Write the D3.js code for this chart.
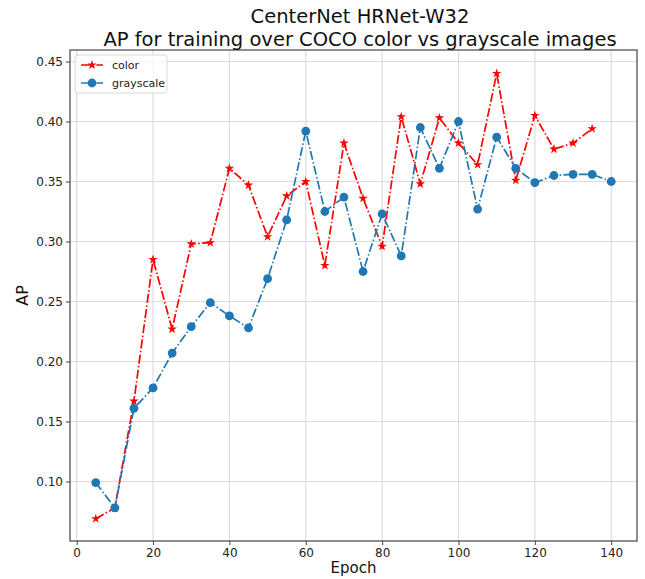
<!DOCTYPE html>
<html>
<head>
<meta charset="utf-8">
<script src="https://cdn.jsdelivr.net/npm/d3@7"></script>
<style>
  body { margin: 0; background: #fff; }
  svg { font-family: "DejaVu Sans", sans-serif; }
</style>
</head>
<body>
<svg width="645" height="579"></svg>
<script>
// Epochs and AP values
const colorEpochs = [5, 10, 15, 20, 25, 30, 35, 40, 45, 50, 55, 60, 65, 70, 75, 80, 85, 90, 95, 100, 105, 110, 115, 120, 125, 130, 135];
const colorAP = [0.069, 0.078, 0.167, 0.285, 0.227, 0.298, 0.299, 0.361, 0.347, 0.304, 0.338, 0.350, 0.280, 0.382, 0.336, 0.296, 0.404, 0.348, 0.403, 0.382, 0.364, 0.440, 0.351, 0.405, 0.377, 0.382, 0.394];
const grayEpochs = [5, 10, 15, 20, 25, 30, 35, 40, 45, 50, 55, 60, 65, 70, 75, 80, 85, 90, 95, 100, 105, 110, 115, 120, 125, 130, 135, 140];
const grayAP = [0.099, 0.078, 0.161, 0.178, 0.207, 0.229, 0.249, 0.238, 0.228, 0.269, 0.318, 0.392, 0.325, 0.337, 0.275, 0.323, 0.288, 0.395, 0.361, 0.400, 0.327, 0.387, 0.361, 0.349, 0.355, 0.356, 0.356, 0.350];
const xTicks = [0, 20, 40, 60, 80, 100, 120, 140];
const yTicks = [0.10, 0.15, 0.20, 0.25, 0.30, 0.35, 0.40, 0.45];

const svg = d3.select("svg");
const margin = { top: 50, right: 8, bottom: 38, left: 70 };
const width = +svg.attr("width");
const height = +svg.attr("height");
const innerWidth = width - margin.left - margin.right;
const innerHeight = height - margin.top - margin.bottom;

const g = svg.append("g")
	.attr("transform", `translate(${margin.left},${margin.top})`);

const x = d3.scaleLinear().domain([-1.75, 146.75]).range([0, innerWidth]);
const y = d3.scaleLinear().domain([0.0504, 0.4596]).range([innerHeight, 0]);

// grid
g.append("g").selectAll("line").data(xTicks).enter().append("line")
	.attr("x1", d => x(d)).attr("x2", d => x(d))
	.attr("y1", 0).attr("y2", innerHeight)
	.attr("stroke", "#dcdcdc").attr("stroke-width", 1.2);
g.append("g").selectAll("line").data(yTicks).enter().append("line")
	.attr("y1", d => y(d)).attr("y2", d => y(d))
	.attr("x1", 0).attr("x2", innerWidth)
	.attr("stroke", "#dcdcdc").attr("stroke-width", 1.2);

// axes
const xAxis = g.append("g")
	.attr("transform", `translate(0,${innerHeight})`)
	.call(d3.axisBottom(x).tickValues(xTicks).tickSize(4).tickPadding(3).tickFormat(d3.format("d")));
const yAxis = g.append("g")
	.call(d3.axisLeft(y).tickValues(yTicks).tickSize(4).tickPadding(3).tickFormat(d3.format(".2f")));
[xAxis, yAxis].forEach(a => {
	a.select(".domain").remove();
	a.selectAll("line").attr("stroke", "#444");
	a.selectAll("text").attr("font-size", 12).attr("fill", "#222")
		.attr("font-family", "DejaVu Sans, sans-serif");
});

// frame
g.append("rect")
	.attr("width", innerWidth).attr("height", innerHeight)
	.attr("fill", "none").attr("stroke", "#444").attr("stroke-width", 1.2);

const dash = "9,2.4,1.5,2.4";
const star = d3.symbol().type(d3.symbolStar).size(28);

const series = [
	{ name: "color", xs: colorEpochs, ys: colorAP, color: "#ff0000", marker: "star" },
	{ name: "grayscale", xs: grayEpochs, ys: grayAP, color: "#1f77b4", marker: "circle" }
];

series.forEach(s => {
	const pts = s.xs.map((e, i) => [e, s.ys[i]]);
	g.append("path")
		.datum(pts)
		.attr("fill", "none")
		.attr("stroke", s.color)
		.attr("stroke-width", 1.7)
		.attr("stroke-dasharray", dash)
		.attr("d", d3.line().x(d => x(d[0])).y(d => y(d[1])));
	if (s.marker === "star") {
		g.append("g").selectAll("path").data(pts).enter().append("path")
			.attr("d", star)
			.attr("transform", d => `translate(${x(d[0])},${y(d[1])})`)
			.attr("fill", s.color);
	} else {
		g.append("g").selectAll("circle").data(pts).enter().append("circle")
			.attr("cx", d => x(d[0])).attr("cy", d => y(d[1]))
			.attr("r", 4.4).attr("fill", s.color);
	}
});

// legend
const legend = g.append("g").attr("transform", "translate(5,5)");
legend.append("rect")
	.attr("width", 92).attr("height", 38).attr("rx", 3)
	.attr("fill", "#fff").attr("fill-opacity", 0.8)
	.attr("stroke", "#d8d8d8");
series.forEach((s, i) => {
	const ly = 10 + i * 18;
	legend.append("line")
		.attr("x1", 6).attr("x2", 28).attr("y1", ly).attr("y2", ly)
		.attr("stroke", s.color).attr("stroke-width", 1.7)
		.attr("stroke-dasharray", dash);
	if (s.marker === "star") {
		legend.append("path").attr("d", star)
			.attr("transform", `translate(17,${ly})`).attr("fill", s.color);
	} else {
		legend.append("circle").attr("cx", 17).attr("cy", ly).attr("r", 4.4).attr("fill", s.color);
	}
	legend.append("text")
		.attr("x", 37).attr("y", ly).attr("dy", "0.35em")
		.attr("font-size", 11).attr("fill", "#222")
		.text(s.name);
});

// title and axis labels
const cx = 360;
const title = svg.append("text")
	.attr("text-anchor", "middle")
	.attr("font-size", 19.5).attr("fill", "#111");
title.append("tspan").attr("x", cx).attr("y", 23).text("CenterNet HRNet-W32");
title.append("tspan").attr("x", cx).attr("y", 46).text("AP for training over COCO color vs grayscale images");

svg.append("text")
	.attr("x", margin.left + innerWidth / 2).attr("y", 573)
	.attr("text-anchor", "middle").attr("font-size", 15).attr("fill", "#111")
	.text("Epoch");
svg.append("text")
	.attr("transform", `translate(28,${margin.top + innerHeight / 2}) rotate(-90)`)
	.attr("text-anchor", "middle").attr("font-size", 16).attr("fill", "#111")
	.text("AP");
</script>
</body>
</html>
